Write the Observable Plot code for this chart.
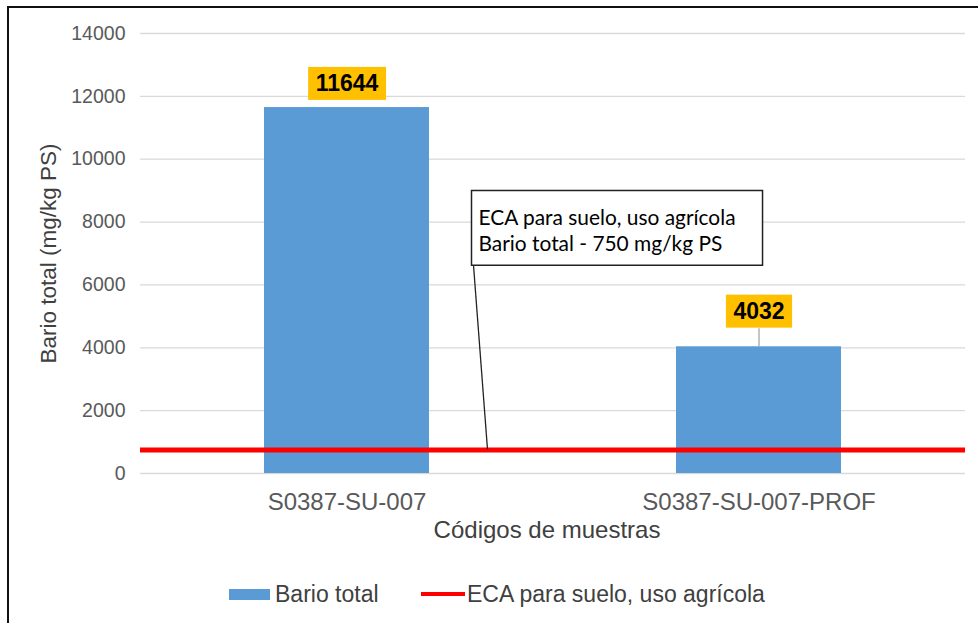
<!DOCTYPE html>
<html><head><meta charset="utf-8">
<script src="https://cdn.jsdelivr.net/npm/d3@7"></script>
<script src="https://cdn.jsdelivr.net/npm/@observablehq/plot@0.6"></script>
<style>
body{margin:0;background:#fff;}
#wrap{position:relative;width:978px;height:623px;overflow:hidden;font-family:"Liberation Sans",Arial,sans-serif;background:#fff;}
#chart svg{display:block;}
#frame{position:absolute;left:7px;top:6px;width:1000px;height:700px;border-left:2px solid #111;border-top:2px solid #111;pointer-events:none;}
#legend{position:relative;height:58px;}
.lg{position:absolute;top:0;height:58px;display:flex;align-items:center;font-size:23px;color:#404040;white-space:nowrap;}
</style></head><body>
<div id="wrap"><div id="chart"></div><div id="legend"></div><div id="frame"></div></div>
<script>
// ---- data ----
const samples = ["S0387-SU-007", "S0387-SU-007-PROF"];
const barioTotal = [11644, 4032];
const ecaLimit = 750;
const yTicks = [0, 2000, 4000, 6000, 8000, 10000, 12000, 14000];
const yTitle = "Bario total (mg/kg PS)";
const xTitle = "Códigos de muestras";
const annotationLines = ["ECA para suelo, uso agrícola", "Bario total - 750 mg/kg PS"];
const legendLabels = ["Bario total", "ECA para suelo, uso agrícola"];

const data = samples.map((s, i) => ({sample: s, value: barioTotal[i]}));

const plot = Plot.plot({
  width: 978, height: 565,
  marginTop: 33, marginLeft: 140, marginRight: 13, marginBottom: 92,
  x: {domain: samples, paddingInner: 0.6, paddingOuter: 0.3, label: null},
  y: {domain: [0, 14000], label: null},
  style: {fontFamily: "'Liberation Sans', Arial, sans-serif", background: "#fff", overflow: "visible"},
  marks: [
    Plot.gridY(yTicks, {stroke: "#d9d9d9", strokeOpacity: 1, strokeWidth: 1.3}),
    Plot.axisY(yTicks, {tickSize: 0, tickPadding: 15, fontSize: 19.5, fill: "#595959", label: null, tickFormat: d => String(d)}),
    Plot.text([yTitle], {frameAnchor: "left", textAnchor: "middle", rotate: -90, dx: -92, fontSize: 22.5, fill: "#404040"}),
    Plot.axisX({tickSize: 0, tickPadding: 19, fontSize: 24, fill: "#595959", label: null}),
    Plot.text([xTitle], {frameAnchor: "bottom", dy: 64, dx: -6, fontSize: 24, fill: "#404040"}),
    Plot.barY(data, {x: "sample", y: "value", fill: "#5b9bd5"}),
    Plot.ruleY([ecaLimit], {stroke: "#ff0000", strokeWidth: 5}),
    // leader line for the second (displaced) data label
    Plot.ruleX(data, {filter: (d, i) => i === 1, x: "sample", y1: "value", y2: "value", insetTop: -18, stroke: "#a6a6a6", strokeWidth: 1.3}),
    Plot.text(data, {filter: (d, i) => i === 0, x: "sample", y: "value", text: d => String(d.value), dy: -23.5, fontSize: 23, fontWeight: "bold", fill: "#000", className: "vlabel"}),
    Plot.text(data, {filter: (d, i) => i === 1, x: "sample", y: "value", text: d => String(d.value), dy: -35, fontSize: 23, fontWeight: "bold", fill: "#000", className: "vlabel"}),
    Plot.text([annotationLines.join("\n")], {frameAnchor: "top-left", dx: 338, dy: 172, lineAnchor: "top", textAnchor: "start", fontSize: 20.9, lineHeight: 1.28, fill: "#000", fontFamily: "Lato, 'Open Sans', sans-serif", className: "annot"})
  ]
});
document.getElementById("chart").appendChild(plot);

const svgBox = plot.getBoundingClientRect();
function boxOf(el) {
  const r = el.getBoundingClientRect();
  return {x: r.left - svgBox.left, y: r.top - svgBox.top, w: r.width, h: r.height};
}
// label boxes behind value labels
d3.select(plot).selectAll("g.vlabel text").each(function() {
  const b = boxOf(this);
  const g = this.parentNode;
  d3.select(plot).insert("rect", () => g)
    .attr("x", b.x - 7.5).attr("y", b.y + b.h / 2 - 16.5)
    .attr("width", b.w + 15).attr("height", 33)
    .attr("fill", "#ffc000");
});
// annotation callout box + leader line
d3.select(plot).selectAll("g.annot text").each(function() {
  const b = boxOf(this);
  const g = this.parentNode;
  const bx = b.x - 7, by = b.y - 13, bw = b.w + 34, bh = b.h + 23;
  const yEca = plot.scale("y").apply(ecaLimit);
  d3.select(plot).insert("rect", () => g)
    .attr("x", bx).attr("y", by).attr("width", bw).attr("height", bh)
    .attr("fill", "#fff").attr("stroke", "#222").attr("stroke-width", 1.5);
  d3.select(plot).insert("line", () => g)
    .attr("x1", bx + 2).attr("y1", by + bh).attr("x2", bx + 16).attr("y2", yEca)
    .attr("stroke", "#222").attr("stroke-width", 1.3);
});

// legend
const lg = d3.select("#legend");
const it1 = lg.append("div").attr("class", "lg").style("left", "229px");
it1.append("span").style("display", "inline-block").style("width", "41px").style("height", "11px").style("background", "#5b9bd5").style("margin-right", "5px");
it1.append("span").text(legendLabels[0]);
const it2 = lg.append("div").attr("class", "lg").style("left", "421px");
it2.append("span").style("display", "inline-block").style("width", "44px").style("height", "4px").style("background", "#ff0000").style("margin-right", "2px");
it2.append("span").text(legendLabels[1]);
</script>
</body></html>
